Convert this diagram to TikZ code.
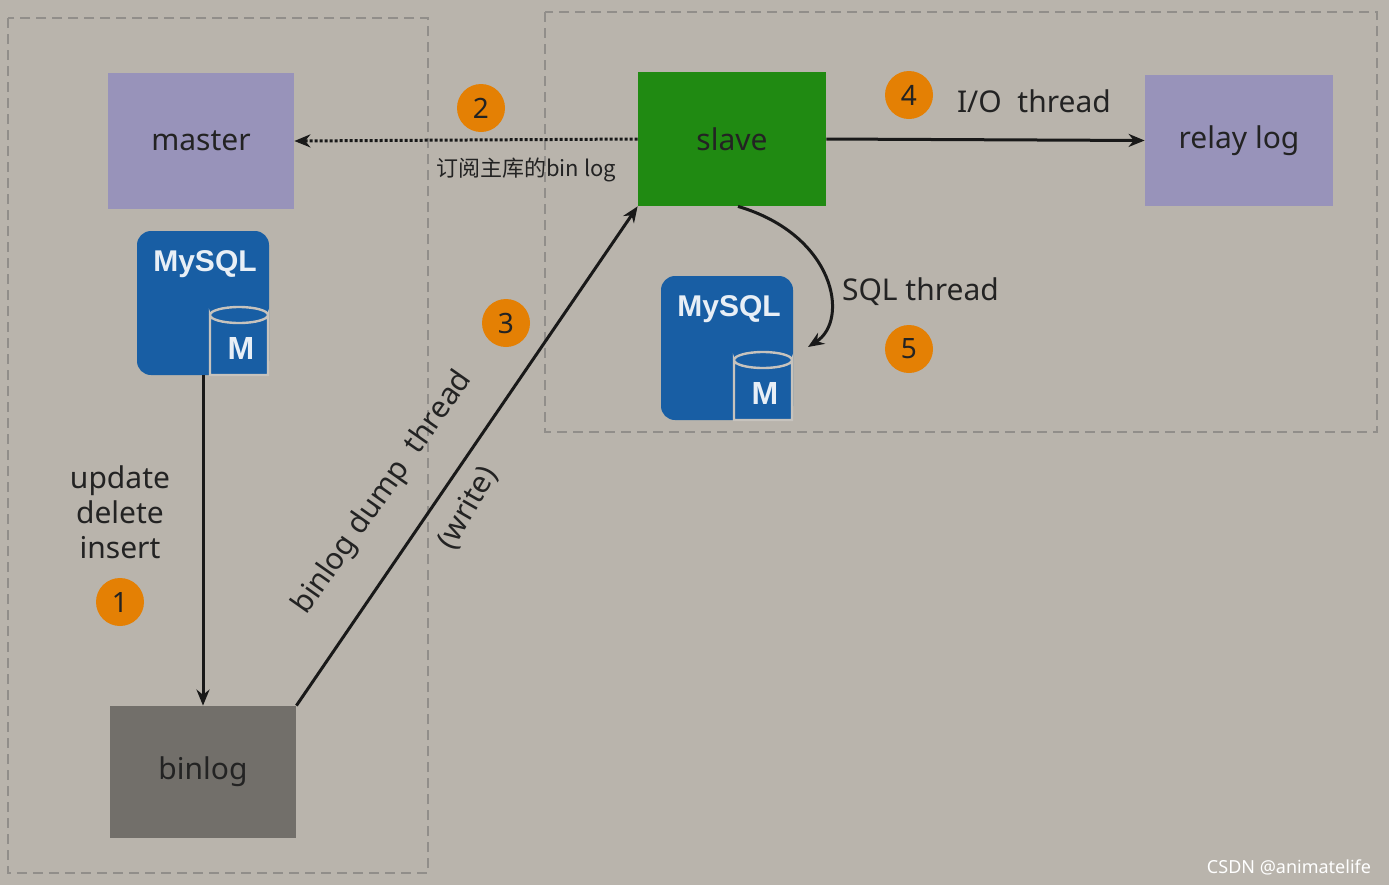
\documentclass[tikz,border=0pt]{standalone}
\usepackage{fontspec}
\setmainfont{Noto Sans}
\newfontfamily\cjk{Noto Sans CJK SC}
\newfontfamily\iconfont{Liberation Sans}
\usetikzlibrary{arrows.meta}
\definecolor{bggray}{RGB}{185,180,172}
\definecolor{boxline}{RGB}{145,142,138}
\definecolor{lavender}{RGB}{152,147,186}
\definecolor{slavegreen}{RGB}{32,138,18}
\definecolor{bingray}{RGB}{114,111,106}
\definecolor{sqlblue}{RGB}{24,94,164}
\definecolor{stepor}{RGB}{228,128,4}
\definecolor{inktext}{RGB}{35,35,35}

% MySQL icon: #1 name, (#2,#3) top left corner
\newcommand{\mysqlicon}[3]{
  \node[icon] (#1) at (#2+66,#3+72) {};
  \node[text=white!90!sqlblue, font=\iconfont\bfseries\fontsize{15}{17}\selectfont] at (#2+68,#3+33) {MySQL};
  \fill[sqlblue, draw=bggray!80, line width=1.2pt] (#2+73,#3+144) -- (#2+73,#3+84)
    arc[start angle=180, end angle=0, x radius=29, y radius=8] -- (#2+131,#3+144) -- cycle;
  \draw[bggray!80, line width=1.2pt] (#2+73,#3+84) arc[start angle=180, end angle=360, x radius=29, y radius=8];
  \node[text=white!90!sqlblue, font=\iconfont\bfseries\fontsize{16}{18}\selectfont] at (#2+104,#3+117) {M};
}

\begin{document}
\begin{tikzpicture}[x=0.5pt, y=-0.5pt,
    block/.style={rectangle, inner sep=0pt, text=inktext, font=\fontsize{15}{17}\selectfont},
    region/.style={draw=boxline, dashed, line width=1pt, dash pattern=on 5pt off 3pt},
    icon/.style={rectangle, rounded corners=7pt, fill=sqlblue, minimum width=66pt, minimum height=72pt, inner sep=0pt},
    stepmark/.style={circle, fill=stepor, minimum size=24pt, inner sep=0pt, text=inktext, font=\fontsize{14}{16}\selectfont},
    flow/.style={-{Stealth[length=8pt, width=6.5pt]}, line width=1.5pt, black!90},
    lbl/.style={text=inktext, font=\fontsize{15}{17}\selectfont}
]
\fill[bggray] (0,0) rectangle (1389,885);
\useasboundingbox (0,0) rectangle (1389,885);

% regions
\draw[region] (8,18) rectangle (428,873);
\draw[region] (545,12) rectangle (1377,432);

% blocks
\node[block, fill=lavender, minimum width=93pt, minimum height=68pt] (master) at (201,141) {master};
\node[block, fill=slavegreen, minimum width=94pt, minimum height=67pt] (slave) at (732,139) {slave};
\node[block, fill=lavender, minimum width=94pt, minimum height=65.5pt] (relay) at (1239,140.5) {relay log};
\node[block, fill=bingray, minimum width=93pt, minimum height=66pt] (binlog) at (203,772) {binlog};

\mysqlicon{mastersql}{137}{231}
\mysqlicon{slavesql}{661}{276}

% steps
\node[stepmark] (s1) at (120,602) {1};
\node[stepmark] (s2) at (481,108) {2};
\node[stepmark] (s3) at (506,323) {3};
\node[stepmark] (s4) at (909,95) {4};
\node[stepmark] (s5) at (909,349) {5};

% connectors
\draw[flow] (mastersql.south -| binlog.north) -- (binlog.north);
\draw[flow, densely dotted] (slave.west) -- (master.east);
\draw[flow] (binlog.north east) -- (slave.south west);
\draw[flow] ([xshift=3pt]slave.south) .. controls (835,235) and (850,320) .. (808,347);
\draw[flow] (slave.east) -- (relay.west);

% labels
\node[lbl, align=center, font=\fontsize{15}{17.5}\selectfont] at (120,512) {update\\delete\\insert};
\node[text=inktext, font=\cjk\fontsize{11}{13}\selectfont] at (526,170) {订阅主库的bin log};
\node[lbl, rotate=55] at (383,493) {binlog dump\ \ thread};
\node[lbl, rotate=60] at (468,508) {(write)};
\node[lbl, anchor=west] at (950,101) {I/O\ \ thread};
\node[lbl, anchor=west] at (835,292) {SQL thread};
\node[text=white, font=\fontsize{9}{11}\selectfont] at (1289,867) {CSDN @animatelife};
\end{tikzpicture}
\end{document}
